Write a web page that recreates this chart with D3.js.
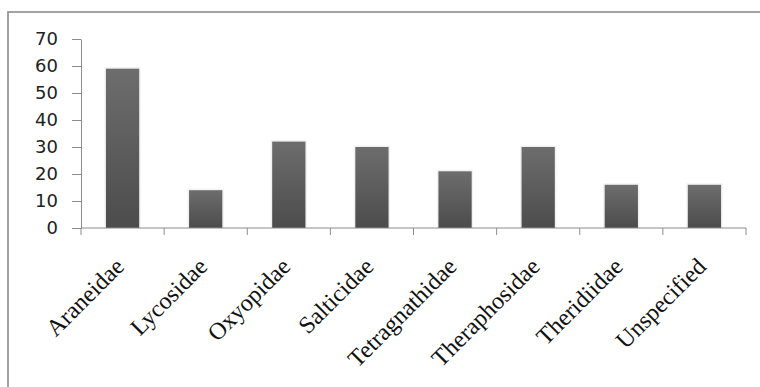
<!DOCTYPE html>
<html>
<head>
<meta charset="utf-8">
<script src="https://cdn.jsdelivr.net/npm/d3@7"></script>
<style>
  html, body { margin: 0; padding: 0; background: #fff; }
  svg { display: block; }
</style>
</head>
<body>
<svg id="chart" width="760" height="387"></svg>
<script>
const categories = ["Araneidae", "Lycosidae", "Oxyopidae", "Salticidae", "Tetragnathidae", "Theraphosidae", "Theridiidae", "Unspecified"];
const values = [59, 14, 32, 30, 21, 30, 16, 16];
const yTicks = [0, 10, 20, 30, 40, 50, 60, 70];

const svg = d3.select("#chart");

// outer frame (extends past the right and bottom edges)
svg.append("rect")
  .attr("x", 8).attr("y", 12)
  .attr("width", 820).attr("height", 420)
  .attr("fill", "none").attr("stroke", "#8c8c8c").attr("stroke-width", 1.6);

const xOuter = d3.scaleBand().domain(categories).range([81, 746]);
const y = d3.scaleLinear().domain([0, 70]).range([228, 39]);

const defs = svg.append("defs");
const grad = defs.append("linearGradient").attr("id", "barGrad")
  .attr("x1", 0).attr("y1", 0).attr("x2", 0).attr("y2", 1);
grad.append("stop").attr("offset", "0%").attr("stop-color", "#6d6d6d");
grad.append("stop").attr("offset", "100%").attr("stop-color", "#4c4c4c");

const bw = xOuter.bandwidth() / 2.5;

// bar shadows
svg.append("g").selectAll("rect").data(categories).join("rect")
  .attr("x", d => xOuter(d) + xOuter.bandwidth() / 2 - bw / 2 - 1.5)
  .attr("y", (d, i) => y(values[i]) - 1.5)
  .attr("width", bw + 3)
  .attr("height", (d, i) => y(0) - y(values[i]) + 1.5)
  .attr("fill", "#f1f1f1");

svg.append("g").selectAll("rect").data(categories).join("rect")
  .attr("x", d => xOuter(d) + xOuter.bandwidth() / 2 - bw / 2)
  .attr("y", (d, i) => y(values[i]))
  .attr("width", bw)
  .attr("height", (d, i) => y(0) - y(values[i]))
  .attr("fill", "url(#barGrad)");

// y axis
const yAxis = svg.append("g").attr("transform", "translate(81,0)")
  .call(d3.axisLeft(y).tickValues(yTicks).tickSize(9).tickPadding(14).tickSizeOuter(0));
yAxis.select(".domain").attr("stroke", "#8c8c8c");
yAxis.selectAll(".tick line").attr("stroke", "#8c8c8c");
yAxis.selectAll(".tick text")
  .attr("font-family", "'DejaVu Sans', sans-serif")
  .attr("font-size", 18)
  .attr("fill", "#222");

// x axis
const xAxis = svg.append("g").attr("transform", "translate(0,228)")
  .call(d3.axisBottom(xOuter).tickSize(0).tickFormat(""));
xAxis.select(".domain").attr("stroke", "#8c8c8c").attr("d", "M81,0H746");
xAxis.selectAll(".tick").remove();
const boundaries = xOuter.domain().map(d => xOuter(d)).concat([746]);
xAxis.selectAll("line.cat").data(boundaries).join("line")
  .attr("class", "cat")
  .attr("x1", d => d).attr("x2", d => d)
  .attr("y1", 0).attr("y2", 7)
  .attr("stroke", "#8c8c8c");

// rotated category labels
svg.append("g").selectAll("text").data(categories).join("text")
  .attr("transform", d => `translate(${xOuter(d) + xOuter.bandwidth() / 2 + 3},${228 + 40}) rotate(-45)`)
  .attr("text-anchor", "end")
  .attr("font-family", "'Liberation Serif', 'Times New Roman', serif")
  .attr("font-size", 24)
  .attr("fill", "#111")
  .text(d => d);
</script>
</body>
</html>
